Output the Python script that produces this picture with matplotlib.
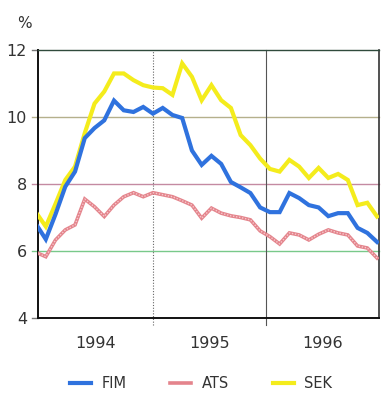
import matplotlib
matplotlib.use("Agg")
import matplotlib.pyplot as plt
from matplotlib.lines import Line2D
import numpy as np

# Monthly interest rates, 1994-1996 (%)
years = ["1994", "1995", "1996"]
fim = [6.80, 6.35, 7.10, 7.92, 8.37, 9.37, 9.67, 9.90, 10.49, 10.20, 10.15, 10.30,
       10.10, 10.27, 10.06, 9.97, 9.00, 8.57, 8.84, 8.60, 8.06, 7.90, 7.73, 7.30,
       7.16, 7.16, 7.73, 7.58, 7.37, 7.30, 7.04, 7.13, 7.13, 6.69, 6.54, 6.27]
ats = [5.96, 5.83, 6.33, 6.63, 6.78, 7.55, 7.32, 7.03, 7.37, 7.62, 7.74, 7.62,
       7.74, 7.68, 7.62, 7.50, 7.37, 6.98, 7.28, 7.13, 7.05, 7.00, 6.93, 6.60,
       6.43, 6.21, 6.54, 6.48, 6.33, 6.50, 6.63, 6.54, 6.48, 6.15, 6.09, 5.79]
sek = [7.15, 6.73, 7.41, 8.12, 8.52, 9.52, 10.40, 10.76, 11.30, 11.30, 11.10, 10.95,
       10.88, 10.86, 10.66, 11.60, 11.20, 10.50, 10.95, 10.50, 10.27, 9.46, 9.16, 8.76,
       8.45, 8.37, 8.72, 8.52, 8.18, 8.48, 8.18, 8.30, 8.12, 7.37, 7.44, 7.03]
yticks = [4, 6, 8, 10, 12]

months = np.arange(len(fim))
year_edges = [12.0, 23.6]
x_lo, x_hi = 0.2, 35.2

c_fim = "#2f72de"
c_ats = "#e4848c"
c_sek = "#f4ec1c"

fig = plt.figure(figsize=(3.87, 3.94), dpi=100)
ax = fig.add_axes([38 / 387, 76 / 394, 341 / 387, 268 / 394])
ax.set_xlim(x_lo, x_hi)
ax.set_ylim(4, 12)

# coloured horizontal reference lines, running a little past the left axis
grid_cols = {6: "#79c98a", 8: "#c48aa2", 10: "#b5b08c"}
for y, col in grid_cols.items():
    ax.plot([x_lo - 0.6, x_hi], [y, y], color=col, lw=1.0, clip_on=False, zorder=1)
for y in (4, 12):
    ax.plot([x_lo - 0.6, x_lo], [y, y], color="#777777", lw=1.0, clip_on=False, zorder=1)

# year separators extending below the frame
ax.plot([year_edges[0]] * 2, [3.78, 12], color="#666666", lw=0.8, ls=(0, (1, 1.5)),
        clip_on=False, zorder=1)
ax.plot([year_edges[1]] * 2, [3.78, 12], color="#555555", lw=0.8, clip_on=False, zorder=1)

ax.plot(months, ats, color=c_ats, lw=2.6, zorder=3, solid_joinstyle="miter")
ax.plot(months, ats, color="#f6c9cc", lw=1.0, ls=(0, (1, 1.2)), zorder=3)
ax.plot(months, sek, color=c_sek, lw=3.0, zorder=4, solid_joinstyle="miter")
ax.plot(months, fim, color=c_fim, lw=3.0, zorder=5, solid_joinstyle="miter")

ax.set_xticks([])
ax.set_yticks(yticks)
ax.set_yticklabels([str(v) for v in yticks], fontsize=11.5, color="#333333")
ax.tick_params(axis="y", length=0, pad=8)

for side in ("left", "bottom"):
    ax.spines[side].set_color("#111111")
    ax.spines[side].set_linewidth(1.4)
ax.spines["top"].set_color("#2f4a3c")
ax.spines["top"].set_linewidth(1.0)
ax.spines["right"].set_color("#333333")
ax.spines["right"].set_linewidth(1.2)

# year labels centred under each year span
bounds = [x_lo] + year_edges + [x_hi]
for i, yr in enumerate(years):
    ax.text((bounds[i] + bounds[i + 1]) / 2, 3.25, yr, ha="center", va="center",
            fontsize=11.5, color="#333333")

fig.text(24 / 387, 1 - 24 / 394, "%", ha="center", va="center", fontsize=11, color="#333333")

handles = [Line2D([], [], color=c_fim, lw=3.0),
           Line2D([], [], color=c_ats, lw=2.6),
           Line2D([], [], color=c_sek, lw=3.0)]
fig.legend(handles, ["FIM", "ATS", "SEK"], loc="center", ncol=3, frameon=False,
           bbox_to_anchor=(201 / 387, 1 - 384 / 394), fontsize=10.5, handlelength=1.45,
           handletextpad=0.7, columnspacing=3.0, labelcolor="#333333")

fig.savefig("out.png", dpi=100)
